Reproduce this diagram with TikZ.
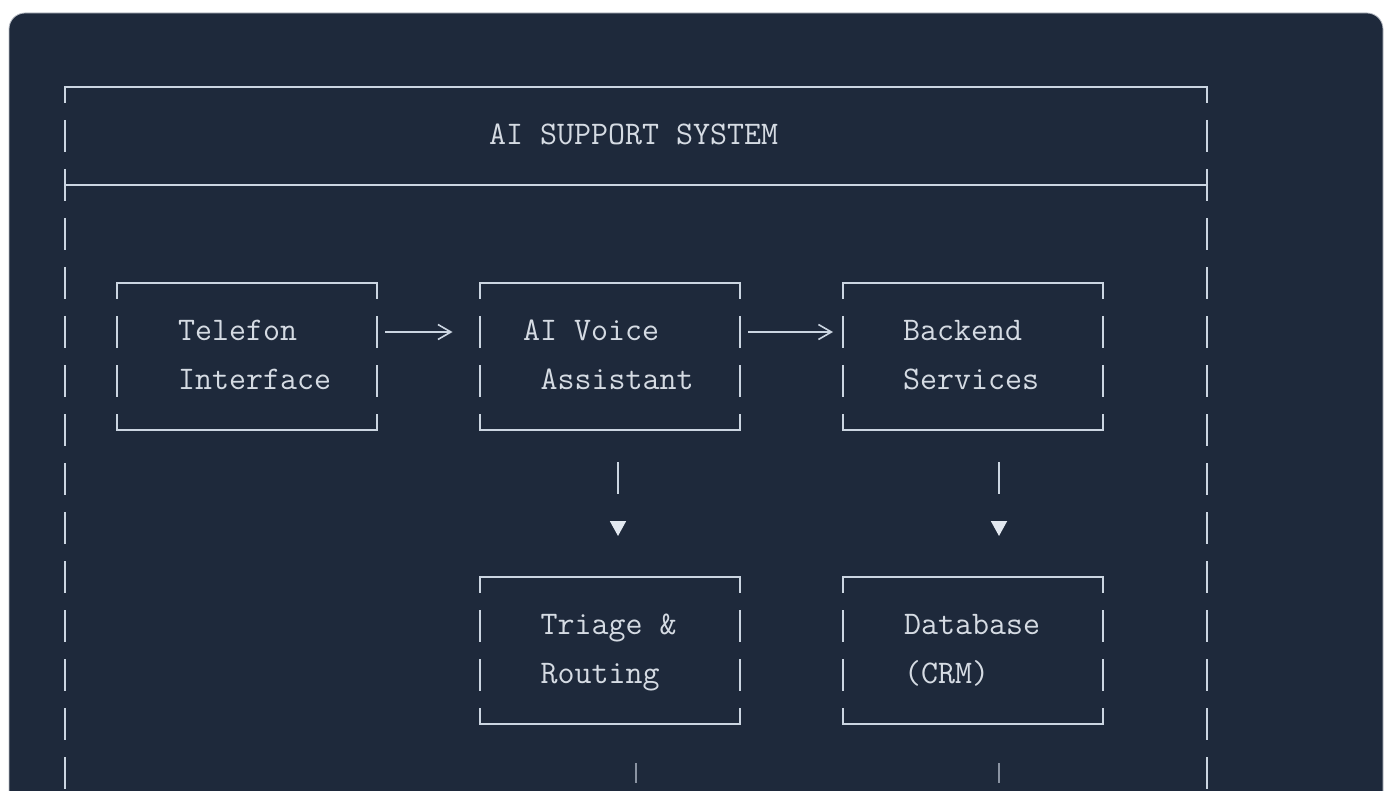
\documentclass[tikz,border=0pt]{standalone}
\usepackage{fontspec}
\usepackage{tikz}
\usetikzlibrary{positioning,arrows.meta}
\definecolor{panelbg}{HTML}{1E293B}
\definecolor{panelrim}{HTML}{B9BEC6}
\definecolor{asciiline}{HTML}{CBD5E1}
\definecolor{asciitext}{HTML}{D5DBE3}
\definecolor{asciitip}{HTML}{E2E8F0}
\definecolor{asciidim}{HTML}{8A93A2}

\tikzset{
  asciibox/.style={minimum width=260pt,minimum height=147pt,inner sep=0pt,outer sep=0pt},
  boxedge/.style={draw=asciiline,line width=1.8pt,line cap=rect},
  boxside/.style={draw=asciiline,line width=1.8pt,dash pattern=on 32pt off 17pt,dash phase=16pt},
  asciilabel/.style={anchor=base west,inner sep=0pt,text=asciitext,font=\ttfamily\fontsize{33}{33}\selectfont},
  chevron/.style={draw=asciiline,line width=1.6pt,-{Straight Barb[length=13pt,width=15pt]}},
  pipe/.style={draw=asciiline,line width=1.8pt,dash pattern=on 32pt off 200pt,
    -{Triangle[length=15pt,width=16pt,color=asciitip]},shorten <=32pt,shorten >=41pt},
  dimpipe/.style={draw=asciidim,line width=1.8pt},
}

\begin{document}
\begin{tikzpicture}[x=1pt,y=-1pt]
    \useasboundingbox (0,0) rectangle (1391,791);
    \clip (0,0) rectangle (1391,791);
    \fill[white] (0,0) rectangle (1391,791);
    \filldraw[fill=panelbg,draw=panelrim,line width=0.8pt,rounded corners=16pt]
      (9,13) rectangle (1383,840);

    \draw[boxedge] (65,87) -- (1207,87);
    \draw[boxedge] (65,185) -- (1207,185);
    \draw[boxside] (65,87) -- (65,840);
    \draw[boxside] (1207,87) -- (1207,840);
    \node[asciilabel] (title) at (489,144.5) {AI SUPPORT SYSTEM};

    \node[asciibox] (telefon) at (247,356.5) {};
    \node[asciibox,right=103pt of telefon] (voice) {};
    \node[asciibox,right=103pt of voice] (backend) {};
    \node[asciibox,below=147pt of voice] (triage) {};
    \node[asciibox,below=147pt of backend] (crm) {};

    \foreach \b in {telefon,voice,backend,triage,crm} {
      \draw[boxedge] (\b.north west) -- (\b.north east);
      \draw[boxedge] (\b.south west) -- (\b.south east);
      \draw[boxside] (\b.north west) -- (\b.south west);
      \draw[boxside] (\b.north east) -- (\b.south east);
    }

    \node[asciilabel] (telefon1) at (178,340.5) {Telefon};
    \node[asciilabel] (telefon2) at (178,389.5) {Interface};
    \node[asciilabel] (voice1) at (523,340.5) {AI Voice};
    \node[asciilabel] (voice2) at (540.4,389.5) {Assistant};
    \node[asciilabel] (backend1) at (903,340.5) {Backend};
    \node[asciilabel] (backend2) at (903,389.5) {Services};
    \node[asciilabel] (triage1) at (540.5,634.5) {Triage \&};
    \node[asciilabel] (triage2) at (540.5,683.5) {Routing};
    \node[asciilabel] (crm1) at (904,634.5) {Database};
    \node[asciilabel] (crm2) at (904,683.5) {(CRM)};

    \draw[chevron,shorten <=8pt,shorten >=27.5pt]
      ([yshift=24.5pt]telefon.east) -- ([yshift=24.5pt]voice.west);
    \draw[chevron,shorten <=8pt,shorten >=10pt]
      ([yshift=24.5pt]voice.east) -- ([yshift=24.5pt]backend.west);
    \draw[pipe] ([xshift=8pt]voice.south) -- ([xshift=8pt]triage.north);
    \draw[pipe] ([xshift=26pt]backend.south) -- ([xshift=26pt]crm.north);

    \coordinate (triageout) at (636,783);
    \coordinate (crmout) at (999,783);
    \draw[dimpipe] ([xshift=26pt,yshift=-39pt]triage.south) -- (triageout);
    \draw[dimpipe] ([xshift=26pt,yshift=-39pt]crm.south) -- (crmout);
\end{tikzpicture}
\end{document}
